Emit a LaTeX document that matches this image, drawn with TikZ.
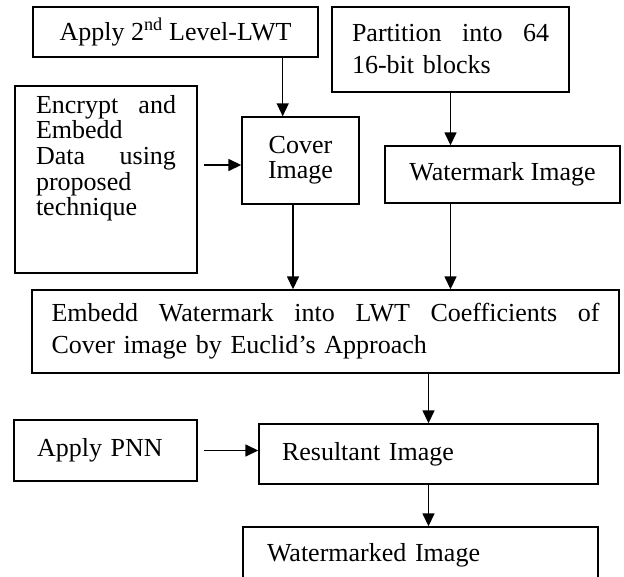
\documentclass[tikz,border=0pt]{standalone}
\usepackage{fontspec}
\setmainfont{Liberation Serif}
\usetikzlibrary{arrows.meta}

\begin{document}
\begin{tikzpicture}[x=1pt,y=-1pt,
  box/.style={draw,line width=1.4pt,inner sep=0pt,font=\fontsize{26}{32}\selectfont},
  arr/.style={line width=1.5pt,-{Triangle[length=13pt,width=12pt]}}]
\useasboundingbox (0,0) rectangle (624,576);
\clip (0,0) rectangle (624,576);

% Top row
\node[box,minimum width=285pt,minimum height=50pt] (lwt) at (175.5,32) {Apply 2\textsuperscript{nd} Level-LWT};
\node[box,minimum width=237pt,minimum height=85pt,text width=197pt,align=left] (part) at (450.5,49.5) {Partition\hfill into\hfill 64\\16-bit blocks};

% Middle row
\node[box,minimum width=182pt,minimum height=187pt,font=\fontsize{26}{25.7}\selectfont] (encrypt) at (106,179.5)
  {\parbox[c][169pt][t]{140pt}{Encrypt\hfill and\\Embedd\\Data\hfill using\\proposed\\technique}};
\node[box,minimum width=117pt,minimum height=87pt,align=center,font=\fontsize{26}{25}\selectfont] (cover) at (300.5,160.5) {Cover\\Image};
\node[box,minimum width=235pt,minimum height=57pt] (wmark) at (502.5,174.5) {Watermark Image};

% Embedding step
\node[box,minimum width=587pt,minimum height=83pt,text width=548pt,align=left] (embed) at (325.5,331.5)
  {Embedd\hfill Watermark\hfill into\hfill LWT\hfill Coefficients\hfill of\\Cover image by Euclid's Approach};

% Bottom part
\node[box,minimum width=183pt,minimum height=61pt,text width=137pt,align=left] (pnn) at (105.5,450.5) {Apply PNN};
\node[box,minimum width=339pt,minimum height=60pt,text width=293pt,align=left] (result) at (428.5,454) {Resultant Image};
\node[box,minimum width=355pt,minimum height=56pt,text width=307pt,align=left] (final) at (420.5,555) {Watermarked Image};

% Arrows
\coordinate (cin) at ([yshift=-4.5pt]cover.west);
\draw[arr] ([xshift=-36pt]lwt.south east) -- ([xshift=-36pt]lwt.south east |- cover.north);
\draw[arr] (part.south) -- (part.south |- wmark.north);
\draw[arr,shorten <=6pt] (encrypt.east |- cin) -- (cin);
\draw[arr] ([xshift=-7.5pt]cover.south) -- ([xshift=-7.5pt]cover.south |- embed.north);
\draw[arr] (part.south |- wmark.south) -- (part.south |- embed.north);
\draw[arr] (result.north |- embed.south) -- (result.north);
\draw[arr,shorten <=6pt] (pnn.east) -- (pnn.east -| result.west);
\draw[arr] (result.south) -- (result.south |- final.north);
\end{tikzpicture}
\end{document}
